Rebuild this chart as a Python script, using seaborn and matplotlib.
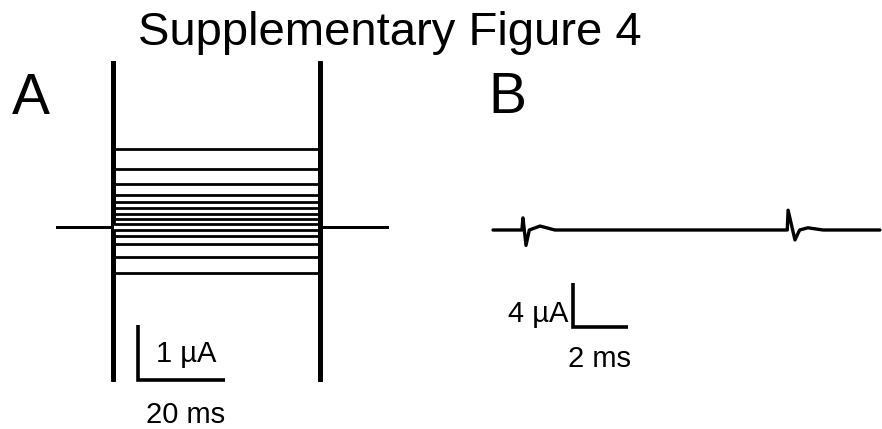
import numpy as np
import pandas as pd
import matplotlib
matplotlib.use("Agg")
import matplotlib.pyplot as plt
import seaborn as sns

# ---------------- data ----------------
# Panel A: two-electrode voltage-clamp family (currents in uA, time in ms)
a_levels = [1.42, 1.05, 0.78, 0.58, 0.45, 0.35, 0.24, 0.15, 0.05,
            -0.05, -0.16, -0.31, -0.55, -0.84]
a_t_start, a_t_on, a_t_off, a_t_end = 0.0, 12.9, 60.5, 75.9
a_sat = 0.45                       # duration of the saturated (clipped) transient, ms
a_peak_pos, a_peak_neg = 3.0, -2.78

# Panel B: single trace with two artefacts (uA, ms)
b_time = [0.0, 1.05, 1.09, 1.2, 1.32, 1.71, 2.25, 10.6, 10.7, 10.73, 10.98,
          11.15, 11.45, 12.0, 14.07]
b_current = [0.0, 0.0, 1.1, -1.4, 0.0, 0.36, 0.0, 0.0, 0.0, 1.8, -0.9,
             0.0, 0.2, 0.0, 0.0]

# scale bars
a_bar_t, a_bar_i = 20, 1      # 20 ms, 1 uA
b_bar_t, b_bar_i = 2, 4       # 2 ms, 4 uA

# ---------------- build tables ----------------
rows = []
for k, lev in enumerate(a_levels):
    p_on = a_peak_pos if lev > 0 else a_peak_neg
    p_off = a_peak_neg if lev > 0 else a_peak_pos
    ts = [a_t_start, a_t_on - a_sat / 2, a_t_on - a_sat / 2, a_t_on + a_sat / 2,
          a_t_on + a_sat / 2, a_t_off - a_sat / 2, a_t_off - a_sat / 2,
          a_t_off + a_sat / 2, a_t_off + a_sat / 2, a_t_end]
    cs = [0, 0, p_on, p_on, lev, lev, p_off, p_off, 0, 0]
    for t, c in zip(ts, cs):
        rows.append({"t": t, "I": c, "sweep": k})
dfA = pd.DataFrame(rows)
dfB = pd.DataFrame({"t": b_time, "I": b_current, "sweep": 0})

# ---------------- figure ----------------
sns.set_theme(style="white")
plt.rcParams["font.family"] = ["Liberation Sans", "DejaVu Sans"]
plt.rcParams["text.color"] = "black"

W, H = 882, 429
fig = plt.figure(figsize=(W / 100, H / 100), dpi=100)
fig.patch.set_facecolor("white")

def px_axes(x0, y0, x1, y1):
    return fig.add_axes([x0 / W, 1 - y1 / H, (x1 - x0) / W, (y1 - y0) / H])

# Panel A axes: data 0 ms at px 57, 4.35 px/ms; 0 uA at px 227, 55 px/uA
pxA_t, pxA_i, x0A, y0A = 4.35, 55.0, 57.0, 227.0
axA = px_axes(40, 55, 400, 395)
sns.lineplot(data=dfA, x="t", y="I", units="sweep", estimator=None, sort=False,
             color="black", linewidth=2.0, ax=axA)
axA.set_xlim((40 - x0A) / pxA_t, (400 - x0A) / pxA_t)
axA.set_ylim((y0A - 395) / pxA_i, (y0A - 55) / pxA_i)
axA.set_axis_off()

# scale bar A
sbx = (138 - x0A) / pxA_t
sby = (y0A - 380) / pxA_i
axA.plot([sbx, sbx, sbx + a_bar_t], [sby + a_bar_i, sby, sby],
         color="black", linewidth=2.6, solid_capstyle="butt",
         solid_joinstyle="miter")
axA.text(sbx + 4.2, sby + 0.33, f"{a_bar_i} µA", fontsize=21,
         ha="left", va="baseline", color="black")
axA.text(sbx + a_bar_t / 2 + 1.0, sby - 0.78, f"{a_bar_t} ms", fontsize=21,
         ha="center", va="baseline", color="black")

# Panel B axes: 0 ms at px 493, 27.5 px/ms; 0 uA at px 230, 11 px/uA
pxB_t, pxB_i, x0B, y0B = 27.5, 11.0, 493.0, 230.0
axB = px_axes(480, 180, 882, 380)
sns.lineplot(data=dfB, x="t", y="I", units="sweep", estimator=None, sort=False,
             color="black", linewidth=2.4, ax=axB)
axB.set_xlim((480 - x0B) / pxB_t, (882 - x0B) / pxB_t)
axB.set_ylim((y0B - 380) / pxB_i, (y0B - 180) / pxB_i)
axB.set_axis_off()

bbx = (573 - x0B) / pxB_t
bby = (y0B - 327) / pxB_i
axB.plot([bbx, bbx, bbx + b_bar_t], [bby + b_bar_i, bby, bby],
         color="black", linewidth=2.6, solid_capstyle="butt",
         solid_joinstyle="miter")
axB.text(bbx - 0.15, bby + 0.45, f"{b_bar_i} µA", fontsize=21,
         ha="right", va="baseline", color="black")
axB.text(bbx + b_bar_t / 2 - 0.03, bby - 3.6, f"{b_bar_t} ms", fontsize=21,
         ha="center", va="baseline", color="black")

# titles / panel letters
fig.text(390 / W, 1 - 45 / H, "Supplementary Figure 4", fontsize=34,
         ha="center", va="baseline", color="black")
fig.text(12 / W, 1 - 114 / H, "A", fontsize=41, ha="left", va="baseline",
         color="black")
fig.text(488 / W, 1 - 113 / H, "B", fontsize=41, ha="left", va="baseline",
         color="black")

fig.savefig("out.png", dpi=100, facecolor="white")
